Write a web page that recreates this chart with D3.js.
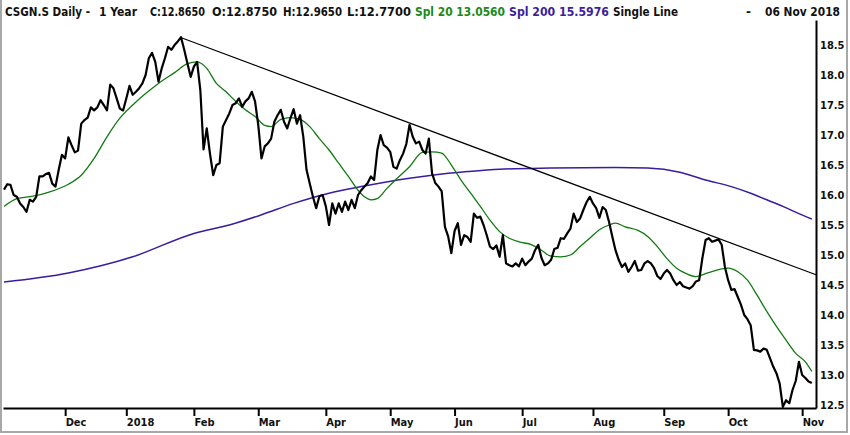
<!DOCTYPE html>
<html>
<head>
<meta charset="utf-8">
<script src="https://cdn.jsdelivr.net/npm/d3@7"></script>
<style>
  body { margin: 0; background: #fff; }
  svg { display: block; }
  .axis text { font-family: "DejaVu Sans Condensed", "DejaVu Sans", sans-serif; font-weight: bold; font-size: 11px; fill: #111; }
  .hdr { font-family: "DejaVu Sans Condensed", "DejaVu Sans", sans-serif; font-weight: bold; font-size: 12px; }
</style>
</head>
<body>
<script>
// daily closes, one per trading day, 06 Nov 2017 .. 06 Nov 2018
var closes = [
  16.09,16.18,16.17,16.00,15.97,15.86,15.80,15.72,15.92,15.89,
  15.97,16.31,16.31,16.35,16.37,16.19,16.14,16.42,16.67,16.61,
  16.96,16.83,16.71,16.74,17.19,17.25,17.29,17.46,17.41,17.46,
  17.58,17.50,17.41,17.84,17.78,17.61,17.44,17.41,17.61,17.82,
  17.67,17.72,17.78,17.86,18.00,18.28,18.37,18.22,17.89,18.11,
  18.28,18.47,18.42,18.50,18.56,18.63,18.42,18.19,17.97,18.14,
  18.22,17.75,16.76,17.11,16.69,16.33,16.50,16.53,17.14,17.25,
  17.36,17.50,17.53,17.61,17.47,17.56,17.61,17.72,17.56,17.17,
  16.61,16.81,16.86,16.94,17.22,17.33,17.42,17.22,17.11,17.28,
  17.43,17.19,17.33,16.97,16.42,16.19,15.97,15.78,15.98,16.00,
  15.81,15.50,15.86,15.69,15.86,15.72,15.89,15.75,15.92,15.78,
  16.00,16.08,16.14,16.20,16.31,16.25,16.75,17.00,16.83,16.79,
  16.72,16.47,16.44,16.58,16.69,16.85,17.17,16.97,16.86,16.89,
  16.75,16.69,16.94,16.36,16.20,16.14,16.06,15.47,15.31,15.03,
  15.40,15.53,15.17,15.33,15.30,15.22,15.69,15.62,15.64,15.50,
  15.33,15.14,15.10,15.16,14.97,15.33,14.86,14.83,14.81,14.86,
  14.81,14.94,14.83,14.89,14.94,15.08,15.17,14.95,14.83,14.86,
  14.92,15.10,15.12,15.28,15.27,15.36,15.44,15.69,15.55,15.61,
  15.75,15.88,15.97,15.86,15.78,15.62,15.80,15.75,15.55,15.31,
  15.08,14.92,14.80,14.86,14.72,14.80,14.90,14.74,14.75,14.86,
  14.90,14.86,14.78,14.65,14.60,14.69,14.75,14.69,14.58,14.50,
  14.55,14.48,14.46,14.44,14.48,14.56,14.58,14.95,15.25,15.28,
  15.22,15.24,15.26,15.17,14.80,14.58,14.42,14.43,14.30,14.17,
  14.00,13.93,13.83,13.42,13.41,13.39,13.44,13.42,13.28,13.14,
  13.03,12.86,12.47,12.58,12.53,12.75,12.90,13.22,13.00,12.95,
  12.89,12.865
];

// Spl 20 (day index, value)
var sma20Idx  = [0,4,9,14,20,24,28,32,36,40,44,48,53,57,60,63,66,69,72,75,78,81,83,86,89,92,95,98,101,104,107,110,112,114,116,119,122,126,130,133,136,139,142,145,148,151,154,157,160,164,167,170,173,176,179,182,185,188,190,193,197,200,203,206,209,212,215,218,221,225,228,231,234,237,240,243,246,249,251];
var sma20Vals = [15.81,15.94,15.98,16.05,16.18,16.33,16.61,16.97,17.28,17.50,17.69,17.86,18.04,18.19,18.22,18.11,17.86,17.72,17.56,17.42,17.31,17.16,17.14,17.26,17.29,17.26,17.14,16.94,16.75,16.53,16.31,16.08,15.97,15.92,15.94,16.11,16.27,16.47,16.71,16.72,16.70,16.50,16.25,16.03,15.81,15.58,15.39,15.28,15.22,15.17,15.08,14.98,14.97,15.00,15.14,15.28,15.42,15.50,15.53,15.47,15.41,15.31,15.14,14.94,14.78,14.69,14.64,14.69,14.74,14.78,14.72,14.58,14.33,14.06,13.81,13.58,13.36,13.22,13.06];

// Spl 200
var sma200Idx  = [0,20,40,59,70,80,90,101,111,126,133,144,154,170,190,200,210,218,226,232,237,242,247,251];
var sma200Vals = [14.55,14.70,14.97,15.36,15.50,15.67,15.86,16.03,16.14,16.28,16.33,16.39,16.43,16.45,16.46,16.45,16.38,16.25,16.14,16.03,15.92,15.81,15.69,15.60];

// hand drawn trend line (day index, value)
var trendIdx  = [54.7, 252.3];
var trendVals = [18.63, 14.67];

var monthLabels = ["Dec","2018","Feb","Mar","Apr","May","Jun","Jul","Aug","Sep","Oct","Nov"];
var monthIdx    = [19,38,59,79,100,120,140,161,183,205,225,248];
var yTicks = [12.5,13.0,13.5,14.0,14.5,15.0,15.5,16.0,16.5,17.0,17.5,18.0,18.5];

var W = 850, H = 435;
var svg = d3.select("body").append("svg").attr("width", W).attr("height", H);

svg.append("rect").attr("x", 1).attr("y", -1).attr("width", 846).attr("height", 433)
   .attr("fill", "#fff").attr("stroke", "#a8a8a8").attr("stroke-width", 2);

var x = d3.scaleLinear().domain([-0.31, 252.3]).range([3, 816]);
var y = d3.scaleLinear().domain([12.45, 18.917]).range([408, 20]);

// header
var hdr = [
  {t:"CSGN.S Daily -", x:5,   w:85,  c:"#111"},
  {t:"1 Year",         x:99,  w:38,  c:"#111"},
  {t:"C:12.8650",      x:150, w:55,  c:"#111"},
  {t:"O:12.8750",      x:212, w:65,  c:"#111"},
  {t:"H:12.9650",      x:283, w:59,  c:"#111"},
  {t:"L:12.7700",      x:347, w:64,  c:"#111"},
  {t:"Spl 20 13.0560", x:415, w:90,  c:"#1b8a1b"},
  {t:"Spl 200 15.5976",x:509, w:100, c:"#3d1f99"},
  {t:"Single Line",    x:613, w:65,  c:"#111"},
  {t:"-",              x:746, w:5,   c:"#111"},
  {t:"06 Nov 2018",    x:765, w:75,  c:"#111"}
];
svg.selectAll("text.hdr").data(hdr).enter().append("text")
   .attr("class", "hdr")
   .attr("x", function(d){ return d.x; })
   .attr("y", 16)
   .attr("textLength", function(d){ return d.w; })
   .attr("lengthAdjust", "spacingAndGlyphs")
   .style("fill", function(d){ return d.c; })
   .text(function(d){ return d.t; });

// axes
var xAxis = d3.axisBottom(x).tickValues(monthIdx)
    .tickFormat(function(d, i){ return monthLabels[i]; })
    .tickSize(8).tickSizeOuter(0);
var gx = svg.append("g").attr("class", "axis").attr("transform", "translate(0,408)").call(xAxis);
gx.select(".domain").attr("stroke", "#000").attr("stroke-width", 2);
gx.selectAll(".tick line").attr("stroke", "#000").attr("stroke-width", 2);
gx.selectAll(".tick text").attr("text-anchor", "start").attr("x", 0).attr("y", 10).attr("dy", "0.71em");

var yAxis = d3.axisRight(y).tickValues(yTicks).tickFormat(d3.format(".1f"))
    .tickSize(0).tickSizeOuter(0).tickPadding(4);
var gy = svg.append("g").attr("class", "axis").attr("transform", "translate(816,0)").call(yAxis);
gy.select(".domain").attr("stroke", "#000").attr("stroke-width", 2);

// lines
var smooth = d3.line().curve(d3.curveMonotoneX)
    .x(function(d){ return x(d[0]); }).y(function(d){ return y(d[1]); });

svg.append("path")
   .attr("d", smooth(d3.zip(sma200Idx, sma200Vals)))
   .attr("fill", "none").attr("stroke", "#3a1c9e").attr("stroke-width", 1.5);

svg.append("path")
   .attr("d", smooth(d3.zip(sma20Idx, sma20Vals)))
   .attr("fill", "none").attr("stroke", "#137a13").attr("stroke-width", 1.3);

svg.append("path")
   .attr("d", d3.line().x(function(d){ return x(d[0]); }).y(function(d){ return y(d[1]); })(d3.zip(trendIdx, trendVals)))
   .attr("fill", "none").attr("stroke", "#000").attr("stroke-width", 1.2);

var priceLine = d3.line()
    .x(function(d, i){ return x(i); })
    .y(function(d){ return y(d); });
svg.append("path")
   .attr("d", priceLine(closes))
   .attr("fill", "none").attr("stroke", "#000").attr("stroke-width", 2.2)
   .attr("stroke-linejoin", "round");
</script>
</body>
</html>
